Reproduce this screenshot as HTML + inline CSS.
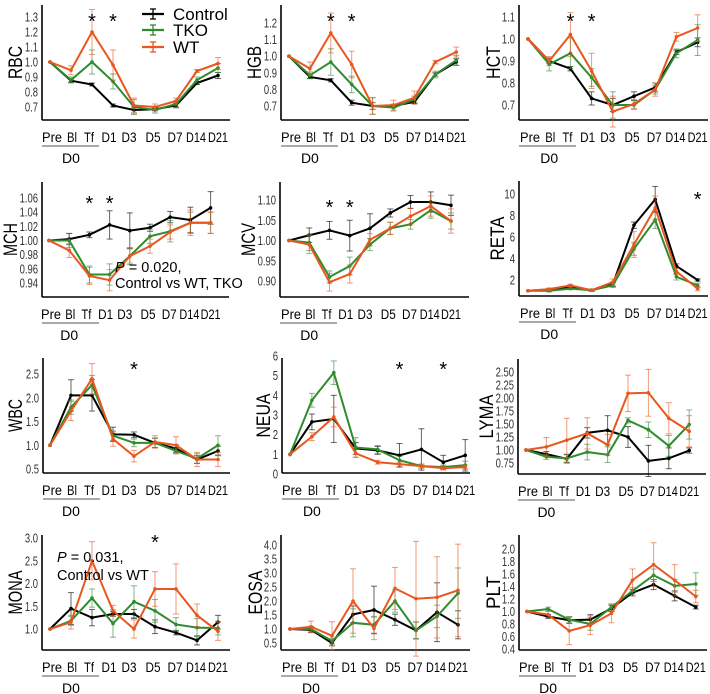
<!DOCTYPE html>
<html><head><meta charset="utf-8"><style>
html,body{margin:0;padding:0;background:#fff;}
svg{display:block;font-family:"Liberation Sans","DejaVu Sans",sans-serif;}
</style></head><body>
<svg id="s" width="710" height="694" xmlns="http://www.w3.org/2000/svg"></svg>
<script>
const S=document.getElementById('s');let h='';
const LAB=['Pre','Bl','Tf','D1','D3','D5','D7','D14','D21'];
const LW=[20,10,10,15,15,15,15,20,20];
const LO=[2,1,-3,-4,-5,-2,-1,-1,0];
const P=[
{n:'RBC',yo:27,ax:42,by:120,x0:50,dx:21,t:[1.3,17,0.7,107],ticks:[0.7,0.8,0.9,1.0,1.1,1.2,1.3],f:1,
C:[1,.875,.85,.71,.68,.685,.71,.86,.91],T:[1,.88,1.0,.87,.7,.68,.72,.88,.96],W:[1,.945,1.2,.98,.71,.70,.74,.94,.99],
eC:[0,.01,.01,.01,.02,.01,.015,.01,.02],eT:[0,.02,.08,.05,.05,.02,.02,.02,.03],eW:[0,.03,.15,.1,.05,.02,.02,.01,.04],stars:[2,3],sy:14},
{n:'HGB',yo:27,ax:281,by:120,x0:289,dx:20.9,t:[1.2,23,0.7,106],ticks:[0.7,0.8,0.9,1.0,1.1,1.2],f:1,
C:[1,.875,.855,.72,.70,.70,.725,.89,.965],T:[1,.885,.965,.83,.70,.69,.74,.89,.975],W:[1,.925,1.14,.95,.70,.705,.75,.965,1.025],
eC:[0,.01,.01,.015,.02,.01,.01,.01,.02],eT:[0,.02,.08,.05,.05,.02,.02,.02,.03],eW:[0,.04,.12,.08,.05,.03,.04,.01,.03],stars:[2,3],sy:14},
{n:'HCT',yo:26,ax:519,by:120,x0:528,dx:21.2,t:[1.1,17,0.7,105],ticks:[0.7,0.8,0.9,1.0,1.1],f:1,
C:[1,.90,.865,.73,.70,.74,.78,.94,.985],T:[1,.885,.935,.825,.70,.70,.77,.935,.995],W:[1,.90,1.02,.855,.67,.705,.77,1.01,1.05],
eC:[0,.01,.01,.03,.03,.02,.02,.01,.02],eT:[0,.03,.07,.04,.06,.02,.02,.02,.07],eW:[0,.02,.1,.08,.07,.02,.03,.02,.06],stars:[2,3],sy:14},
{n:'MCH',yo:32,ax:42,by:297,x0:49,dx:20.2,t:[1.06,198,0.94,283],ticks:[0.94,0.96,0.98,1.00,1.02,1.04,1.06],f:2,
C:[1,1.002,1.008,1.022,1.014,1.018,1.033,1.029,1.046],T:[1,1.0,.952,.952,.978,1.006,1.013,1.025,1.025],W:[1,.986,.950,.944,.978,.992,1.012,1.025,1.025],
eC:[0,.008,.004,.02,.025,.005,.008,.018,.023],eT:[0,.01,.012,.015,.012,.01,.015,.015,.015],eW:[0,.01,.012,.015,.01,.01,.01,.018,.015],stars:[2,3],sy:196},
{n:'MCV',yo:32,ax:280,by:297,x0:289,dx:20.25,t:[1.10,200,0.90,281],ticks:[0.90,0.95,1.00,1.05,1.10],f:2,
C:[1,1.013,1.025,1.012,1.03,1.068,1.095,1.095,1.087],T:[1,.995,.91,.937,.99,1.03,1.04,1.075,1.048],W:[1,.99,.897,.917,1.002,1.03,1.06,1.085,1.048],
eC:[0,.018,.022,.038,.036,.01,.016,.025,.025],eT:[0,.02,.015,.022,.015,.015,.012,.02,.02],eW:[0,.022,.022,.022,.015,.015,.02,.025,.03],stars:[2,3],sy:200},
{n:'RETA',yo:22,ax:519,by:296,x0:528,dx:21.2,t:[10,194,2,280],ticks:[2,4,6,8,10],f:0,
C:[1,1.1,1.3,1.05,1.6,7.1,9.5,3.3,2.0],T:[1,1.0,1.2,1.05,1.5,4.9,7.6,2.3,1.5],W:[1,1.15,1.5,1.05,1.8,5.3,8.7,2.8,1.2],
eC:[0,.1,.1,.1,.2,.3,1.2,.2,.1],eT:[0,.1,.1,.1,.2,.6,.8,.3,.2],eW:[0,.1,.1,.1,.3,1.2,1.1,.3,.2],stars:[8],sy:192},
{n:'WBC',yo:28,ax:43,by:473,x0:50,dx:21,t:[2.5,374,0.5,469],ticks:[0.5,1.0,1.5,2.0,2.5],f:1,
C:[1,2.05,2.05,1.23,1.22,1.05,.93,.70,.88],T:[1,1.8,2.27,1.2,1.05,1.05,.88,.72,1.0],W:[1,1.72,2.4,1.13,.77,1.07,1.0,.70,.70],
eC:[0,.33,.33,.15,.06,.1,.08,.08,.1],eT:[0,.15,.2,.1,.08,.1,.06,.1,.2],eW:[0,.2,.32,.15,.12,.13,.18,.15,.15],stars:[4],sy:362},
{n:'NEUA',yo:19,ax:282,by:473,x0:290,dx:21.9,t:[6,356,0,474],ticks:[0,1,2,3,4,5,6],f:0,
C:[1,2.65,2.8,1.3,1.2,.95,1.25,.6,.95],T:[1,3.75,5.15,1.35,1.25,.7,.4,.35,.45],W:[1,1.9,2.9,1.05,.6,.5,.4,.3,.35],
eC:[0,.4,1.2,.3,.2,.6,1.05,.35,.8],eT:[0,.35,.6,.5,.2,.2,.1,.1,.2],eW:[0,.2,.5,.2,.1,.1,.1,.1,.1],stars:[5,7],sy:362},
{n:'LYMA',yo:32,ax:518,by:474,x0:526,dx:20.4,t:[2.5,372,0.75,463],ticks:[0.75,1.00,1.25,1.50,1.75,2.00,2.25,2.50],f:2,
C:[1,.92,.83,1.33,1.38,1.25,.79,.84,.99],T:[1,.87,.84,.96,.91,1.57,1.39,1.08,1.49],W:[1,1.06,1.19,1.32,1.10,2.09,2.1,1.61,1.36],
eC:[0,.05,.08,.1,.28,.2,.3,.2,.05],eT:[0,.05,.08,.15,.15,.05,.15,.2,.28],eW:[0,.18,.42,.3,.2,.35,.45,.3,.3],stars:[],sy:0},
{n:'MONA',yo:27,ax:42,by:650,x0:50,dx:21,t:[3.0,538,1.0,629],ticks:[1.0,1.5,2.0,2.5,3.0],f:1,
C:[1,1.45,1.25,1.33,1.33,1.05,.92,.75,1.15],T:[1,1.18,1.68,1.12,1.6,1.4,1.1,1.03,1.02],W:[1,1.15,2.5,1.4,1.0,1.88,1.88,1.3,.95],
eC:[0,.35,.18,.05,.1,.15,.05,.1,.15],eT:[0,.1,.2,.3,.35,.25,.15,.2,.15],eW:[0,.15,.42,.12,.2,.38,.55,.25,.2],stars:[5],sy:535},
{n:'EOSA',yo:26,ax:281,by:650,x0:290,dx:21,t:[4.0,545,0.5,643],ticks:[0.5,1.0,1.5,2.0,2.5,3.0,3.5,4.0],f:1,
C:[1,.97,.5,1.52,1.68,1.33,.95,1.6,1.15],T:[1,1.0,.57,1.22,1.15,2.0,.95,1.45,2.28],W:[1,1.08,.76,2.0,1.02,2.45,2.08,2.13,2.38],
eC:[0,.1,.1,.3,.85,.2,.3,1.05,.5],eT:[0,.1,.1,.5,.3,.4,.3,.4,.9],eW:[0,.2,.5,1.15,.4,.75,2.05,1.45,1.65],stars:[],sy:0},
{n:'PLT',yo:26,ax:519,by:650,x0:527,dx:21.1,t:[2.0,549,0.4,649],ticks:[0.4,0.6,0.8,1.0,1.2,1.4,1.6,1.8,2.0],f:1,
C:[1,.92,.86,.87,1.05,1.30,1.43,1.25,1.07],T:[1,1.04,.87,.80,1.07,1.33,1.58,1.41,1.44],W:[1,.95,.69,.78,.97,1.5,1.75,1.5,1.24],
eC:[0,.03,.05,.08,.05,.05,.08,.08,.03],eT:[0,.03,.05,.1,.05,.05,.1,.1,.18],eW:[0,.05,.22,.15,.15,.18,.35,.25,.1],stars:[],sy:0}
];
const a={'C':'#000','T':'#2e8b2e','W':'#e8571f'};
P.forEach(p=>{
 const k=(p.t[3]-p.t[1])/(p.t[2]-p.t[0]);
 const Y=v=>p.t[1]+(v-p.t[0])*k;
 const X=i=>p.x0+i*p.dx;
 const top=p.by-115,right=p.x0+180;
 h+=`<line x1="${p.ax}" y1="${top}" x2="${p.ax}" y2="${p.by}" stroke="#000" stroke-width="1.6"/>`;
 h+=`<line x1="${p.ax}" y1="${p.by}" x2="${right}" y2="${p.by}" stroke="#000" stroke-width="1.6"/>`;
 p.ticks.forEach(v=>{const s=v.toFixed(p.f);
  const w=s.replace('.','').length*5.3+(s.includes('.')?2.5:0);
  h+=`<text x="${p.ax-4-w}" y="${Y(v)+4.5}" font-size="12.5" fill="#333" textLength="${w}" lengthAdjust="spacingAndGlyphs">${s}</text>`;});
 const mid=(top+p.by)/2;
 h+=`<text transform="translate(${p.ax-p.yo+7},${mid}) rotate(-90)" font-size="19" text-anchor="middle" textLength="${p.n.length*11}" lengthAdjust="spacingAndGlyphs">${p.n}</text>`;
 LAB.forEach((l,i)=>{h+=`<text x="${X(i)+LO[i]-LW[i]/2}" y="${p.by+22}" font-size="14" textLength="${LW[i]}" lengthAdjust="spacingAndGlyphs">${l}</text>`;});
 h+=`<line x1="${p.ax}" y1="${p.by+26}" x2="${p.ax+57}" y2="${p.by+26}" stroke="#555" stroke-width="1"/>`;
 h+=`<text x="${X(1)}" y="${p.by+43}" font-size="14" text-anchor="middle">D0</text>`;
 ['C','T','W'].forEach(s=>{
  const c=a[s];
  p[s].forEach((v,i)=>{const e=p['e'+s][i];if(e>0){const x=X(i);
   h+=`<g stroke="${c}" stroke-opacity="0.6" stroke-width="1"><line x1="${x}" y1="${Y(v-e)}" x2="${x}" y2="${Y(v+e)}"/><line x1="${x-3}" y1="${Y(v-e)}" x2="${x+3}" y2="${Y(v-e)}"/><line x1="${x-3}" y1="${Y(v+e)}" x2="${x+3}" y2="${Y(v+e)}"/></g>`;}});
  h+=`<polyline fill="none" stroke="${c}" stroke-width="2" points="${p[s].map((v,i)=>X(i)+','+Y(v)).join(' ')}"/>`;
  p[s].forEach((v,i)=>{h+=`<circle cx="${X(i)}" cy="${Y(v)}" r="1.8" fill="${c}"/>`;});
 });
 p.stars.forEach(i=>{h+=`<text x="${X(i)}" y="${p.sy+14}" font-size="20" text-anchor="middle">*</text>`;});
});
[['Control','C',14],['TKO','T',30],['WT','W',47]].forEach(([t,s,y])=>{
 const c=a[s];
 h+=`<g stroke="${c}" stroke-width="2.2"><line x1="142" y1="${y}" x2="164" y2="${y}"/><line x1="153" y1="${y-5}" x2="153" y2="${y+5}" stroke-width="1.3"/><line x1="150" y1="${y-5}" x2="156" y2="${y-5}" stroke-width="1.3"/><line x1="150" y1="${y+5}" x2="156" y2="${y+5}" stroke-width="1.3"/></g>`;
 h+=`<text x="173" y="${y+6}" font-size="17">${t}</text>`;
});
h+=`<text x="115" y="272" font-size="14.5"><tspan font-style="italic">P</tspan> = 0.020,</text>`;
h+=`<text x="115" y="288" font-size="14.5">Control vs WT, TKO</text>`;
h+=`<text x="57" y="562" font-size="14.5"><tspan font-style="italic">P</tspan> = 0.031,</text>`;
h+=`<text x="57" y="580" font-size="14.5">Control vs WT</text>`;
S.innerHTML=h;
</script>
</body></html>
